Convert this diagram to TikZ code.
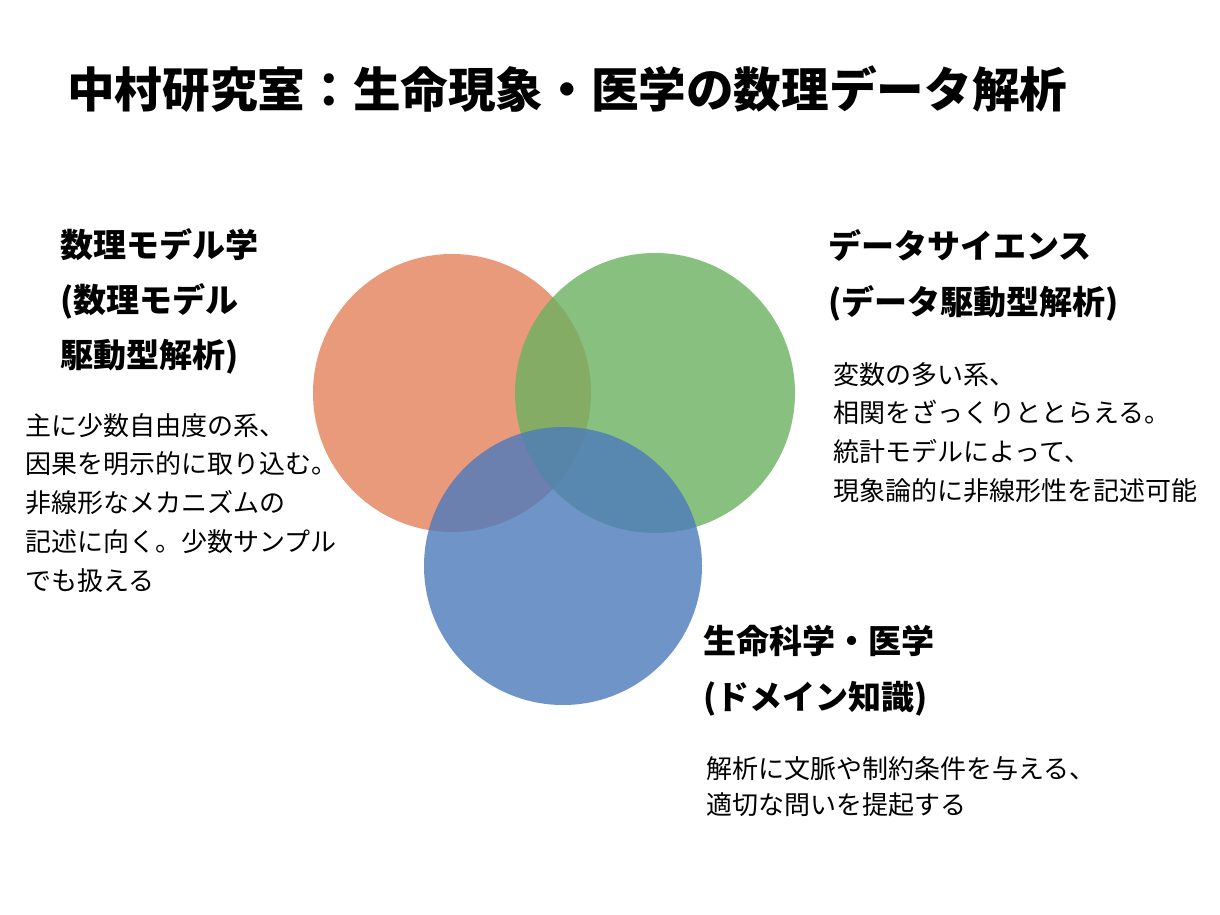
\documentclass[tikz,border=0pt]{standalone}
\usepackage{fontspec}
\setmainfont{Noto Sans CJK JP}
\definecolor{modelred}{RGB}{227,129,90}
\definecolor{datagreen}{RGB}{107,177,95}
\definecolor{lifeblue}{RGB}{76,122,187}

\begin{document}
\begin{tikzpicture}[x=0.02cm,y=-0.02cm,
  circ/.style={fill opacity=0.8},
  titletext/.style={anchor=base west,inner sep=0,font=\bfseries\fontsize{27.1}{30}\selectfont},
  head/.style={anchor=base west,inner sep=0,font=\bfseries\fontsize{18.8}{22}\selectfont},
  body/.style={anchor=base west,inner sep=0,font=\fontsize{14.8}{18}\selectfont}]
\useasboundingbox[fill=white] (0,0) rectangle (1220,915);

% three fields
\fill[modelred,circ] (452,393) circle (139);
\fill[datagreen,circ] (655,393) circle (140);
\fill[lifeblue,circ] (563,566) circle (139);

% title
\node[titletext] (title) at (67,108) {中村研究室：生命現象・医学の数理データ解析};

% mathematical modelling
\node[head] (mhead1) at (60,257.5) {数理モデル学};
\node[head] (mhead2) at (60,312.5) {(数理モデル};
\node[head] (mhead3) at (60,367.5) {駆動型解析)};
\node[body] (mbody1) at (25,435) {主に少数自由度の系、};
\node[body] (mbody2) at (25,473) {因果を明示的に取り込む。};
\node[body] (mbody3) at (25,512) {非線形なメカニズムの};
\node[body] (mbody4) at (25,551) {記述に向く。少数サンプル};
\node[body] (mbody5) at (25,590) {でも扱える};

% data science
\node[head] (dhead1) at (828,258.5) {データサイエンス};
\node[head] (dhead2) at (828,314.5) {(データ駆動型解析)};
\node[body] (dbody1) at (833,384) {変数の多い系、};
\node[body] (dbody2) at (833,422) {相関をざっくりととらえる。};
\node[body] (dbody3) at (833,461) {統計モデルによって、};
\node[body] (dbody4) at (833,500) {現象論的に非線形性を記述可能};

% life science
\node[head] (lhead1) at (703,653.5) {生命科学・医学};
\node[head] (lhead2) at (703,709.5) {(ドメイン知識)};
\node[body] (lbody1) at (706,778) {解析に文脈や制約条件を与える、};
\node[body] (lbody2) at (706,814) {適切な問いを提起する};
\end{tikzpicture}
\end{document}
